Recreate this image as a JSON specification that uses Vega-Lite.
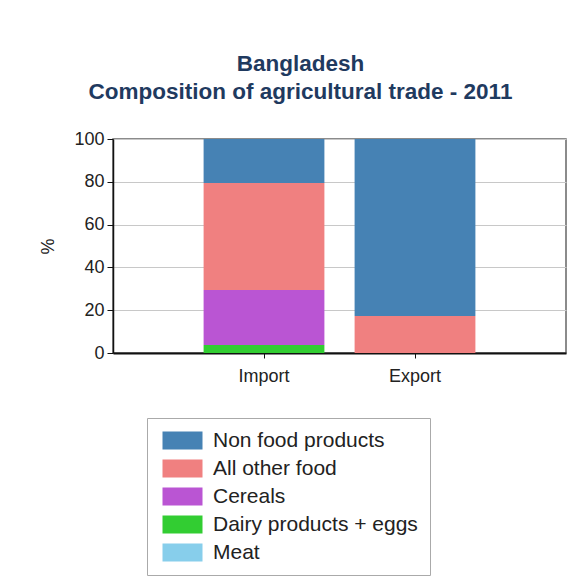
{
  "$schema": "https://vega.github.io/schema/vega-lite/v6.json",
  "autosize": "none",
  "width": 453,
  "height": 214,
  "padding": {"left": 113, "top": 139, "right": 10, "bottom": 230},
  "background": "white",
  "title": {
    "text": ["Bangladesh", "Composition of agricultural trade - 2011"],
    "font": "Liberation Sans",
    "fontSize": 22.5,
    "fontWeight": "bold",
    "color": "#1f3a5f",
    "anchor": "middle",
    "dx": -39,
    "offset": 27,
    "lineHeight": 28
  },
  "data": {
    "values": [
      {"flow": "Import", "category": "Meat", "rank": 1, "share": 0},
      {"flow": "Import", "category": "Dairy products + eggs", "rank": 2, "share": 3.7},
      {"flow": "Import", "category": "Cereals", "rank": 3, "share": 25.7},
      {"flow": "Import", "category": "All other food", "rank": 4, "share": 50.0},
      {"flow": "Import", "category": "Non food products", "rank": 5, "share": 20.6},
      {"flow": "Export", "category": "Meat", "rank": 1, "share": 0},
      {"flow": "Export", "category": "Dairy products + eggs", "rank": 2, "share": 0},
      {"flow": "Export", "category": "Cereals", "rank": 3, "share": 0},
      {"flow": "Export", "category": "All other food", "rank": 4, "share": 17.3},
      {"flow": "Export", "category": "Non food products", "rank": 5, "share": 82.7}
    ]
  },
  "mark": {"type": "bar"},
  "encoding": {
    "x": {
      "field": "flow",
      "type": "nominal",
      "sort": ["Import", "Export"],
      "scale": {"paddingInner": 0.2, "paddingOuter": 0.6},
      "axis": {
        "title": null,
        "labelAngle": 0,
        "labelFont": "Liberation Sans",
        "labelFontSize": 18,
        "labelColor": "#222",
        "labelPadding": 9,
        "domainColor": "#111",
        "domainWidth": 2,
        "tickColor": "#111",
        "tickSize": 5,
        "grid": false
      }
    },
    "y": {
      "field": "share",
      "type": "quantitative",
      "stack": "zero",
      "scale": {"domain": [0, 100], "nice": false},
      "axis": {
        "title": "%",
        "titleFont": "Liberation Sans",
        "titleFontSize": 18,
        "titleFontWeight": "normal",
        "titleColor": "#222",
        "titlePadding": 16,
        "values": [0, 20, 40, 60, 80, 100],
        "labelFont": "Liberation Sans",
        "labelFontSize": 18,
        "labelColor": "#222",
        "labelPadding": 3,
        "domainColor": "#111",
        "domainWidth": 1.5,
        "tickColor": "#111",
        "tickSize": 6,
        "gridColor": "#c8c8c8",
        "gridWidth": 1
      }
    },
    "order": {"field": "rank", "type": "quantitative", "sort": "ascending"},
    "color": {
      "field": "category",
      "type": "nominal",
      "scale": {
        "domain": ["Non food products", "All other food", "Cereals", "Dairy products + eggs", "Meat"],
        "range": ["#4682b4", "#f08080", "#ba55d3", "#32cd32", "#87ceeb"]
      },
      "legend": {
        "title": null,
        "orient": "none",
        "legendX": 34,
        "legendY": 279,
        "symbolType": "M-2,-0.9H2V0.9H-2Z",
        "symbolSize": 400,
        "symbolOffset": 13,
        "symbolStrokeWidth": 0,
        "symbolOpacity": 1,
        "labelFont": "Liberation Sans",
        "labelFontSize": 21,
        "labelColor": "#222",
        "labelOffset": 20,
        "labelLimit": 300,
        "rowPadding": 6,
        "padding": 12,
        "strokeColor": "#aaa",
        "fillColor": "white"
      }
    }
  },
  "config": {
    "view": {"stroke": "#666", "strokeWidth": 1.5}
  }
}
